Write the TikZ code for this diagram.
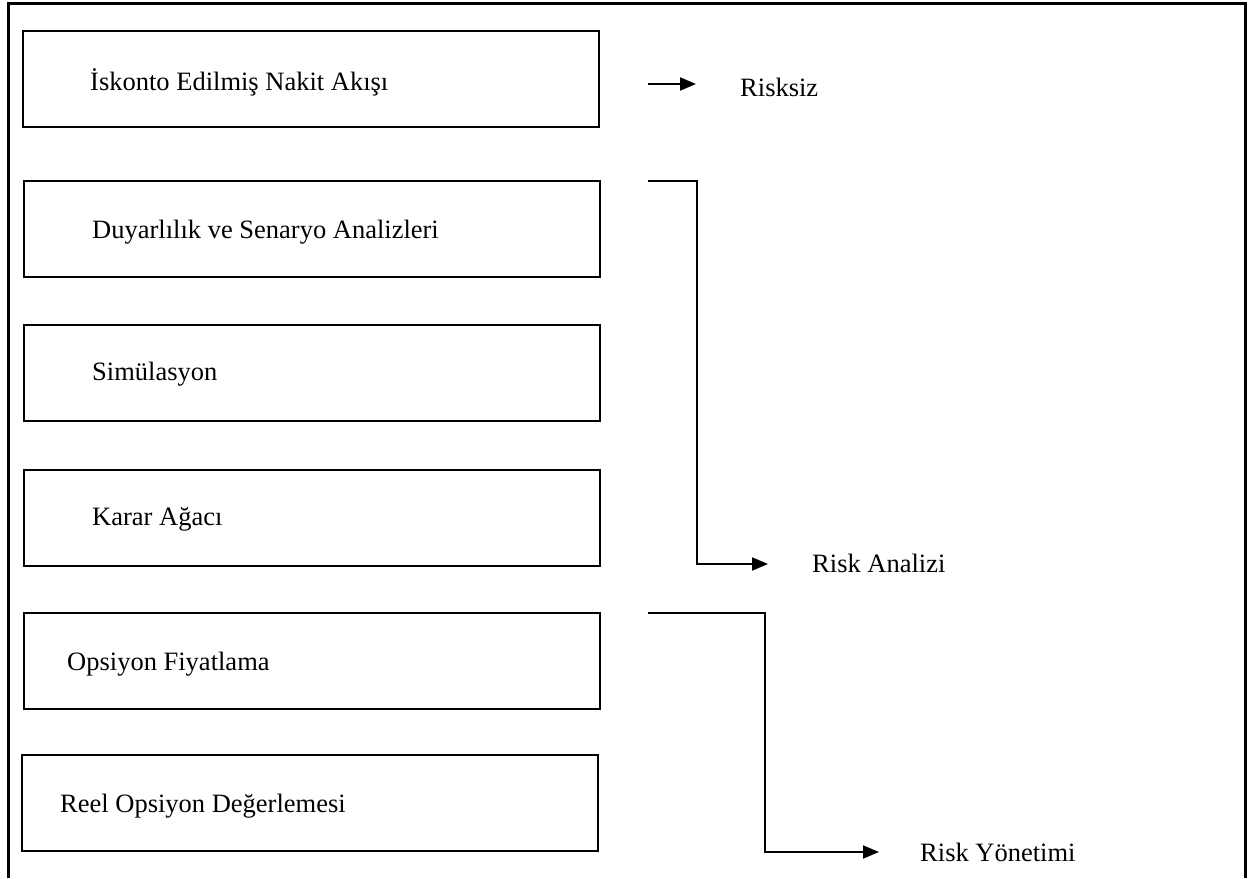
\documentclass[tikz,border=0pt]{standalone}
\usepackage{fontspec}
\setmainfont{Liberation Serif}
\usetikzlibrary{arrows.meta}
\begin{document}
\begin{tikzpicture}[x=1pt,y=-1pt,
  box/.style={draw=black, line width=2pt, minimum width=576pt, minimum height=96pt, inner sep=0pt},
  lbl/.style={anchor=base west, inner sep=0pt, font=\fontsize{26.5}{30}\selectfont},
  conn/.style={draw=black, line width=2pt},
  arr/.style={conn, -{Triangle[length=16pt,width=13pt]}}]
\useasboundingbox (0,0) rectangle (1249,878);
% outer frame (open at the bottom)
\draw[line width=3pt] (8,878) -- (8,3) -- (1245,3) -- (1245,878);
% boxes
\node[box] (b1) at (311,79) {};
\node[box] (b2) at (312,229) {};
\node[box] (b3) at (312,373) {};
\node[box] (b4) at (312,518) {};
\node[box] (b5) at (312,661) {};
\node[box] (b6) at (310,803) {};
% box texts
\node[lbl] (t1) at (90,90) {İskonto Edilmiş Nakit Akışı};
\node[lbl] (t2) at (92,238) {Duyarlılık ve Senaryo Analizleri};
\node[lbl] (t3) at (92,380) {Simülasyon};
\node[lbl] (t4) at (92,525) {Karar Ağacı};
\node[lbl] (t5) at (67,670) {Opsiyon Fiyatlama};
\node[lbl] (t6) at (60,812) {Reel Opsiyon Değerlemesi};
% result labels
\node[lbl] (r1) at (740,96) {Risksiz};
\node[lbl] (r2) at (812,572) {Risk Analizi};
\node[lbl] (r3) at (920,861) {Risk Yönetimi};
% connectors
\coordinate (s1) at (648,84);
\coordinate (e1) at (696,84);
\draw[arr] (s1) -- (e1);
\coordinate (s2) at (648,181);
\coordinate (k2) at (697,181);
\coordinate (e2) at (768,564);
\draw[arr] (s2) -- (k2) |- (e2);
\coordinate (s3) at (648,613);
\coordinate (k3) at (765,613);
\coordinate (e3) at (879,852);
\draw[arr] (s3) -- (k3) |- (e3);
\end{tikzpicture}
\end{document}
